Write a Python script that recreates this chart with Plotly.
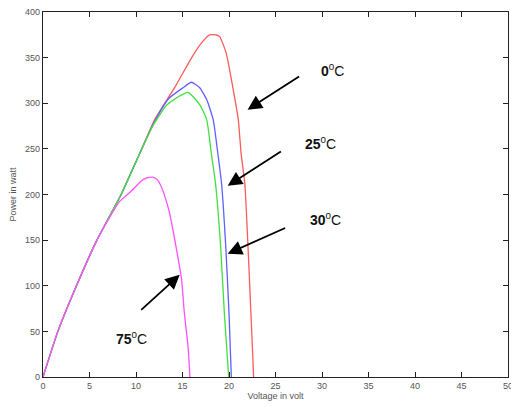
import plotly.graph_objects as go

# Data (Voltage in volt, Power in watt)
v_0c = [0, 1.6, 3.6, 5.8, 8.4, 10.4, 12.0, 14.2, 16.1, 17.2, 17.9, 18.6, 19.0, 19.7, 20.4, 21.0, 21.3, 21.7, 22.2, 22.65]
p_0c = [0, 50, 100, 150, 200, 245, 282, 318, 352, 368, 375, 375, 373, 355, 318, 282, 245, 212, 107, 0]

v_25c = [0, 1.6, 3.6, 5.8, 8.4, 10.4, 12.0, 13.5, 15.05, 15.95, 16.85, 17.6, 18.3, 18.8, 19.2, 19.65, 20.0, 20.25]
p_25c = [0, 50, 100, 150, 200, 245, 280, 305, 317, 323, 317, 304, 282, 245, 212, 143, 70, 0]

v_30c = [0, 1.6, 3.6, 5.8, 8.4, 10.4, 11.8, 13.3, 14.7, 15.6, 16.85, 17.6, 18.1, 18.55, 19.1, 19.5, 19.97]
p_30c = [0, 50, 100, 150, 200, 245, 275, 298, 308, 312, 298.5, 282, 245, 212, 143, 70, 0]

v_75c = [0, 1.6, 3.6, 5.8, 8.2, 9.3, 10.0, 10.6, 11.1, 11.8, 12.3, 12.7, 13.1, 13.6, 14.3, 14.9, 15.2, 15.6, 15.8]
p_75c = [0, 50, 100, 150, 192, 202, 209, 215, 218, 219, 216, 209, 198, 180, 143, 107, 70, 33, 0]

x_ticks = [0, 5, 10, 15, 20, 25, 30, 35, 40, 45, 50]
y_ticks = [0, 50, 100, 150, 200, 250, 300, 350, 400]

labels = ["<b>0</b><sup>0</sup>C", "<b>25</b><sup>0</sup>C", "<b>30</b><sup>0</sup>C", "<b>75</b><sup>0</sup>C"]
label_pos = [(31.15, 336), (29.8, 256), (30.4, 173.5), (9.54, 43)]
arrows = [  # (tip_x, tip_y, tail_x, tail_y)
    (22.0, 293, 27.7, 330.5),
    (19.86, 209.6, 25.74, 248.3),
    (19.86, 135.1, 26.2, 164),
    (14.7, 112, 10.4, 72),
]

fig = go.Figure()
for v, p, c in [(v_0c, p_0c, "#ff5a5a"), (v_25c, p_25c, "#5f5fff"),
                (v_30c, p_30c, "#3fe03f"), (v_75c, p_75c, "#ff50ff")]:
    fig.add_trace(go.Scatter(x=v, y=p, mode="lines", line=dict(color=c, width=1.3, shape="spline", smoothing=0.5),
                             showlegend=False, hoverinfo="skip"))

axis_common = dict(showgrid=False, zeroline=False, showline=True, linecolor="#222",
                   linewidth=1.3, mirror="ticks", ticks="inside", ticklen=5, automargin=False,
                   ticklabeloverflow="allow",
                   tickcolor="#222", tickfont=dict(family="Liberation Sans", size=9, color="#555"))
fig.update_xaxes(range=[0, 50], tickvals=x_ticks, ticktext=[str(t) for t in x_ticks],
                 title=dict(text="Voltage in volt", font=dict(family="Liberation Sans", size=9, color="#555"),
                            standoff=2),
                 **axis_common)
fig.update_yaxes(range=[0, 400], tickvals=y_ticks, ticktext=[str(t) for t in y_ticks],
                 title=dict(text="Power in watt", font=dict(family="Liberation Sans", size=9, color="#555"),
                            standoff=6),
                 **axis_common)

for txt, (x, y) in zip(labels, label_pos):
    fig.add_annotation(x=x, y=y, xref="x", yref="y", text=txt, showarrow=False,
                       font=dict(family="Liberation Sans", size=14, color="#111"))
for tx, ty, ax, ay in arrows:
    fig.add_annotation(x=tx, y=ty, ax=ax, ay=ay, xref="x", yref="y", axref="x", ayref="y",
                       text="", showarrow=True, arrowhead=2, arrowsize=1.6, arrowwidth=1.8,
                       arrowcolor="black", standoff=0)

fig.update_layout(width=511, height=407, plot_bgcolor="white", paper_bgcolor="white",
                  margin=dict(l=43, r=3, t=12, b=30))
fig.write_html("out.html", config={"displayModeBar": False},
               post_script="document.body.style.margin='0';document.body.style.overflow='hidden';")
